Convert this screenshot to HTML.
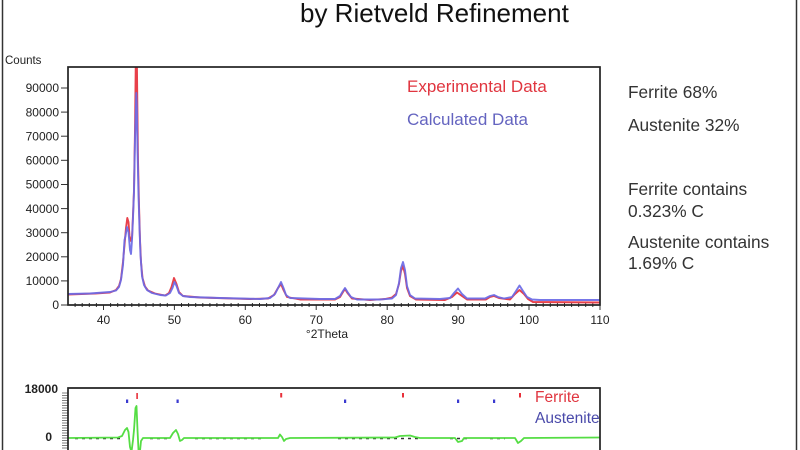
<!DOCTYPE html>
<html>
<head>
<meta charset="utf-8">
<style>
html,body{margin:0;padding:0;background:#fff;}
svg{display:block;}
text{font-family:"Liberation Sans",Arial,sans-serif;}
</style>
</head>
<body>
<svg width="800" height="450" viewBox="0 0 800 450" xmlns="http://www.w3.org/2000/svg">
<defs>
<clipPath id="cp"><rect x="68" y="67" width="532" height="238"/></clipPath>
<clipPath id="cp2"><rect x="68" y="388" width="532" height="62"/></clipPath>
</defs>
<rect width="800" height="450" fill="#fff"/>
<line x1="2.5" y1="0" x2="2.5" y2="450" stroke="#333" stroke-width="1.5"/>
<line x1="796.5" y1="0" x2="796.5" y2="450" stroke="#333" stroke-width="1.5"/>

<text x="300" y="22" font-size="26" fill="#111">by Rietveld Refinement</text>

<text x="5" y="64" font-size="11.5" fill="#222">Counts</text>

<g stroke="#333" stroke-width="1">
<line x1="61" y1="305" x2="68" y2="305"/>
<line x1="61" y1="280.9" x2="68" y2="280.9"/>
<line x1="61" y1="256.8" x2="68" y2="256.8"/>
<line x1="61" y1="232.7" x2="68" y2="232.7"/>
<line x1="61" y1="208.6" x2="68" y2="208.6"/>
<line x1="61" y1="184.5" x2="68" y2="184.5"/>
<line x1="61" y1="160.3" x2="68" y2="160.3"/>
<line x1="61" y1="136.2" x2="68" y2="136.2"/>
<line x1="61" y1="112.1" x2="68" y2="112.1"/>
<line x1="61" y1="88" x2="68" y2="88"/>
</g>
<g font-size="12" fill="#222" text-anchor="end">
<text x="59" y="309.2">0</text>
<text x="59" y="285.1">10000</text>
<text x="59" y="261">20000</text>
<text x="59" y="236.9">30000</text>
<text x="59" y="212.8">40000</text>
<text x="59" y="188.7">50000</text>
<text x="59" y="164.5">60000</text>
<text x="59" y="140.4">70000</text>
<text x="59" y="116.3">80000</text>
<text x="59" y="92.2">90000</text>
</g>

<g stroke="#333" stroke-width="1">
<path d="M75.1 303v4M82.2 303v4M89.3 303v4M96.4 303v4M110.6 303v4M117.7 303v4M124.8 303v4M131.8 303v4M138.9 303v4M146 303v4M153.1 303v4M160.2 303v4M167.3 303v4M181.5 303v4M188.6 303v4M195.7 303v4M202.8 303v4M209.9 303v4M216.9 303v4M224 303v4M231.1 303v4M238.2 303v4M252.4 303v4M259.5 303v4M266.6 303v4M273.7 303v4M280.8 303v4M287.9 303v4M295 303v4M302 303v4M309.1 303v4M323.3 303v4M330.4 303v4M337.5 303v4M344.6 303v4M351.7 303v4M358.8 303v4M365.9 303v4M373 303v4M380.1 303v4M394.2 303v4M401.3 303v4M408.4 303v4M415.5 303v4M422.6 303v4M429.7 303v4M436.8 303v4M443.9 303v4M451 303v4M465.2 303v4M472.3 303v4M479.4 303v4M486.5 303v4M493.6 303v4M500.6 303v4M507.7 303v4M514.8 303v4M521.9 303v4M536.1 303v4M543.2 303v4M550.3 303v4M557.4 303v4M564.5 303v4M571.6 303v4M578.7 303v4M585.7 303v4M592.8 303v4"/>
<path d="M103.5 305v5M174.4 305v5M245.3 305v5M316.2 305v5M387.2 305v5M458.1 305v5M529 305v5M600 305v5"/>
</g>
<g font-size="12" fill="#222" text-anchor="middle">
<text x="103.5" y="324">40</text>
<text x="174.4" y="324">50</text>
<text x="245.3" y="324">60</text>
<text x="316.2" y="324">70</text>
<text x="387.2" y="324">80</text>
<text x="458.1" y="324">90</text>
<text x="529" y="324">100</text>
<text x="600" y="324">110</text>
<text x="327" y="338">°2Theta</text>
</g>

<g clip-path="url(#cp)" fill="none" stroke-linejoin="round">
<polyline stroke="#e8404a" stroke-width="1.9" points="68,294.5 95,293.5 110,292.5 116,290 119,286 121,279 123,262 124.5,245 126,228 127.3,218 128.5,222 129.5,236 131,241 132,238 133,215 134,190 135,130 135.8,60 136.2,55 136.8,55 137.3,100 138,160 139,205 140,240 141,262 142.5,278 145,286.5 148,290.5 155,293.5 165,295.5 169,293 171.5,287 174,278 176.5,284 179,292 183,296 200,297.5 250,299 268,298.5 274,295 278,288 281,284 283.5,290 287,297 300,299.5 335,299.5 340,297 343,292 345,289 347.5,293 352,298.5 370,300 385,299 392,297.5 396,294 399,284 401,271 403,266 405,274 407,288 410,296 416,299.5 445,300 452,297 457,292.5 462,296 467,299.5 486,299.5 490,297 494,296 499,298 510,299.5 515,294 519.5,290 524,294 528,299 533,302 600,302.5"/>
<polyline stroke="#6a6ae6" stroke-width="1.9" stroke-opacity="0.92" points="68,294 90,293.5 110,292 116,290.5 119,287 121,280 123,265 124.5,240 125.5,236 127,227 128.5,232 130,250 131,254 132,240 133,218 134,192 135,140 135.7,115 136.3,93 136.9,108 137.5,150 138.5,195 139.5,228 140.5,255 142,276 144,285 147,290 152,293 160,295 166,295.5 170,293 172.5,288 174.5,282 176.5,286 179,293 183,296 190,297 220,298 260,299 270,298 275,294 278.5,287 281,282 283.5,288 286,295 290,298 320,299 335,299 340,296 343,291 345,288 347.5,292 351,297 357,299.5 380,299.5 392,298.5 396,295 399,283 401,268 403,262 405,270 407,286 410,295 415,298.5 440,299 450,298 454,293 458,288.5 462,294 467,298.5 485,298.5 490,296 494,295 498,297 504,298.5 512,297 516,291 519.5,285.5 523,291 527,297 532,299.5 540,300 600,300"/>
</g>
<rect x="68" y="67" width="532" height="238" fill="none" stroke="#222" stroke-width="1.7"/>

<text x="407" y="92" font-size="17" fill="#e0353f">Experimental Data</text>
<text x="407" y="125" font-size="17" fill="#6464c0">Calculated Data</text>

<g font-size="17.3" fill="#333">
<text x="628" y="98">Ferrite 68%</text>
<text x="628" y="131">Austenite 32%</text>
<text x="628" y="195">Ferrite contains</text>
<text x="628" y="217">0.323% C</text>
<text x="628" y="248">Austenite contains</text>
<text x="628" y="269">1.69% C</text>
</g>

<g font-size="12" fill="#222" text-anchor="end" font-weight="bold">
<text x="58" y="393">18000</text>
<text x="52" y="441">0</text>
</g>
<g stroke="#555" stroke-width="0.8">
<path d="M62 393h6M62 395.5h6M62 398h6M62 400.5h6M62 403h6M62 405.5h6M62 408h6M62 410.5h6M62 413h6M62 415.5h6M62 418h6M62 420.5h6M62 423h6M62 425.5h6M62 428h6M62 430.5h6M62 433h6M62 435.5h6M62 438h6M62 440.5h6M62 443h6M62 445.5h6M62 448h6"/>
</g>
<g clip-path="url(#cp2)">
<line x1="75" y1="438.5" x2="120" y2="438.5" stroke="#333" stroke-width="1.5" stroke-dasharray="3,4"/>
<line x1="150" y1="438.5" x2="168" y2="438.5" stroke="#333" stroke-width="1.5" stroke-dasharray="3,4"/>
<line x1="195" y1="438.5" x2="262" y2="438.5" stroke="#333" stroke-width="1.5" stroke-dasharray="3,4"/>
<line x1="338" y1="438.5" x2="420" y2="438.5" stroke="#333" stroke-width="1.5" stroke-dasharray="3,4"/>
<line x1="450" y1="438.5" x2="470" y2="438.5" stroke="#333" stroke-width="1.5" stroke-dasharray="3,4"/>
<line x1="490" y1="438.5" x2="505" y2="438.5" stroke="#333" stroke-width="1.5" stroke-dasharray="3,4"/>
<polyline fill="none" stroke="#55dd44" stroke-width="1.8" stroke-linejoin="round" points="68,438 118,437.5 122,436 125,430 127,428 128.5,432 130,447 131.5,452 133,440 134,430 135.5,408 136.5,406 137.5,430 138.5,450 139.5,456 141,441 143,438 170,438 173,433 176,430 178,434 180,441 182,440 184,438 278,438 280,434.5 282,437 284,441 286,439 290,438 395,437.5 400,436 410,435.5 415,437 420,438 455,438 458,442 462,441 464,438 515,438 518,443 521,441 524,438 600,437.5"/>
</g>
<g fill="#e8303a">
<rect x="136.3" y="393" width="1.6" height="6"/>
<rect x="280.2" y="393" width="2" height="4.5"/>
<rect x="402" y="393" width="2" height="4.5"/>
<rect x="519" y="393" width="2" height="4.5"/>
</g>
<g fill="#3a3ad0">
<rect x="126" y="399.5" width="2.2" height="3.5"/>
<rect x="176.5" y="399.5" width="2.2" height="3.5"/>
<rect x="344" y="399.5" width="2.2" height="3.5"/>
<rect x="457" y="399.5" width="2.2" height="3.5"/>
<rect x="493" y="399.5" width="2.2" height="3.5"/>
</g>
<text x="535" y="402" font-size="15.5" fill="#e0353f">Ferrite</text>
<text x="535" y="423" font-size="15.5" fill="#4a4aaa">Austenite</text>
<path d="M68 451V388H600V451" fill="none" stroke="#222" stroke-width="1.7"/>
</svg>
</body>
</html>
